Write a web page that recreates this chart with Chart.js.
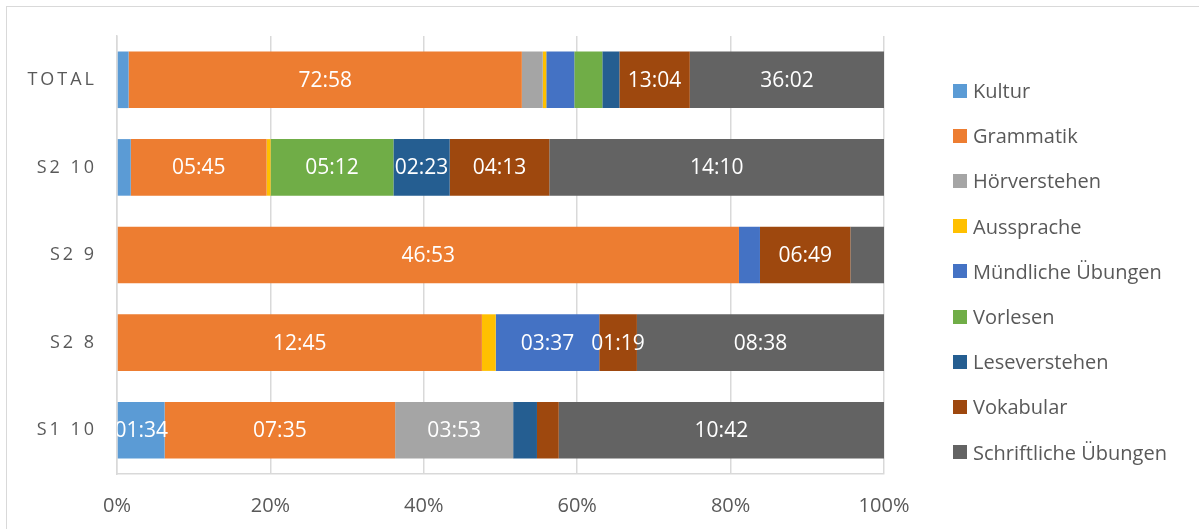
<!DOCTYPE html>
<html>
<head>
<meta charset="utf-8">
<script src="https://cdn.jsdelivr.net/npm/chart.js"></script>
<style>
  html, body { margin: 0; padding: 0; background: #fff; overflow: hidden; }
  #wrap { position: relative; width: 1199px; height: 529px; }
  #frame { position: absolute; left: 6px; top: 6px; width: 1300px; height: 600px; border: 1px solid #d9d9d9; }
  #chart { position: absolute; left: 0; top: 0; }
  #legend { position: absolute; left: 953px; top: 68px; font-family: "Open Sans", sans-serif; font-size: 20px; color: #595959; }
  #legend .item { height: 45.2px; display: flex; align-items: center; white-space: nowrap; }
  #legend .box { width: 14px; height: 14px; margin-right: 6px; }
</style>
</head>
<body>
<div id="wrap">
  <div id="frame"></div>
  <canvas id="chart" width="1199" height="529"></canvas>
  <div id="legend"></div>
</div>
<script>
  // ===== Daten (Sekunden) =====
  const categories = ["TOTAL", "S2 10", "S2 9", "S2 8", "S1 10"];

  const kultur        = [129,   35,    0,   0,  94];
  const grammatik     = [4378, 345, 2813, 765, 455];
  const hoerverstehen = [233,    0,    0,   0, 233];
  const aussprache    = [39,    10,    0,  29,   0];
  const muendlich     = [312,    0,   95, 217,   0];
  const vorlesen      = [312,  312,    0,   0,   0];
  const leseverstehen = [190,  143,    0,   0,  47];
  const vokabular     = [784,  253,  409,  79,  43];
  const schriftlich   = [2162, 850,  152, 518, 642];

  const seriesNames = ["Kultur", "Grammatik", "Hörverstehen", "Aussprache", "Mündliche Übungen",
                       "Vorlesen", "Leseverstehen", "Vokabular", "Schriftliche Übungen"];
  const seriesColors = ["#5B9BD5", "#ED7D31", "#A5A5A5", "#FFC000", "#4472C4",
                        "#70AD47", "#255E91", "#9E480E", "#636363"];
  const seriesValues = [kultur, grammatik, hoerverstehen, aussprache, muendlich,
                        vorlesen, leseverstehen, vokabular, schriftlich];

  const xTicks = [0, 20, 40, 60, 80, 100];

  // ===== 100% gestapelt =====
  const totals = categories.map((c, j) => seriesValues.reduce((s, arr) => s + arr[j], 0));
  const percent = seriesValues.map(arr => arr.map((v, j) => v / totals[j] * 100));

  function fmtTime(sec) {
    let m = Math.floor(sec / 60), s = sec % 60;
    return String(m).padStart(2, "0") + ":" + String(s).padStart(2, "0");
  }

  // ===== Beschriftung in den Balken =====
  const barLabels = {
    id: "barLabels",
    afterDatasetsDraw(chart) {
      const ctx = chart.ctx, area = chart.chartArea;
      ctx.save();
      ctx.beginPath();
      ctx.rect(area.left, area.top, area.right - area.left, area.bottom - area.top);
      ctx.clip();
      ctx.font = '21px "Open Sans"';
      ctx.fillStyle = "#fff";
      ctx.textAlign = "center";
      ctx.textBaseline = "middle";
      chart.data.datasets.forEach((ds, i) => {
        chart.getDatasetMeta(i).data.forEach((bar, j) => {
          if (percent[i][j] < 4.5) return;
          ctx.fillText(fmtTime(seriesValues[i][j]), (bar.x + bar.base) / 2, bar.y + 1);
        });
      });
      ctx.restore();
    }
  };

  const ctx = document.getElementById("chart").getContext("2d");
  new Chart(ctx, {
    type: "bar",
    data: {
      labels: categories,
      datasets: seriesNames.map((name, i) => ({
        label: name,
        data: percent[i],
        backgroundColor: seriesColors[i],
        borderWidth: 0,
        barPercentage: 0.646,
        categoryPercentage: 1
      }))
    },
    options: {
      indexAxis: "y",
      responsive: false,
      animation: false,
      layout: { padding: { top: 36, right: 315, bottom: 0, left: 0 } },
      plugins: { legend: { display: false }, tooltip: { enabled: false } },
      scales: {
        x: {
          stacked: true,
          min: 0,
          max: 100,
          afterFit: s => { s.height = 55; },
          afterBuildTicks: s => { s.ticks = xTicks.map(v => ({ value: v })); },
          grid: { color: "#d9d9d9", lineWidth: 1.5, drawTicks: false },
          border: { display: true, color: "#d9d9d9", width: 1.5 },
          ticks: {
            padding: 20,
            color: "#595959",
            font: { family: "Open Sans", size: 20 },
            callback: v => v + "%"
          }
        },
        y: {
          stacked: true,
          afterFit: s => { s.width = 117; },
          grid: { display: false, drawTicks: false },
          border: { display: true, color: "#d9d9d9", width: 1.5 },
          ticks: {
            padding: 23,
            color: "#595959",
            font: { family: "Open Sans", size: 18 },
            callback: function (v) { return this.getLabelForValue(v).split("").join("\u2009"); }
          }
        }
      }
    },
    plugins: [barLabels]
  });

  // ===== Legende =====
  const legend = document.getElementById("legend");
  seriesNames.forEach((name, i) => {
    let item = document.createElement("div");
    item.className = "item";
    item.innerHTML = '<span class="box" style="background:' + seriesColors[i] + '"></span>' + name;
    legend.appendChild(item);
  });
</script>
</body>
</html>
